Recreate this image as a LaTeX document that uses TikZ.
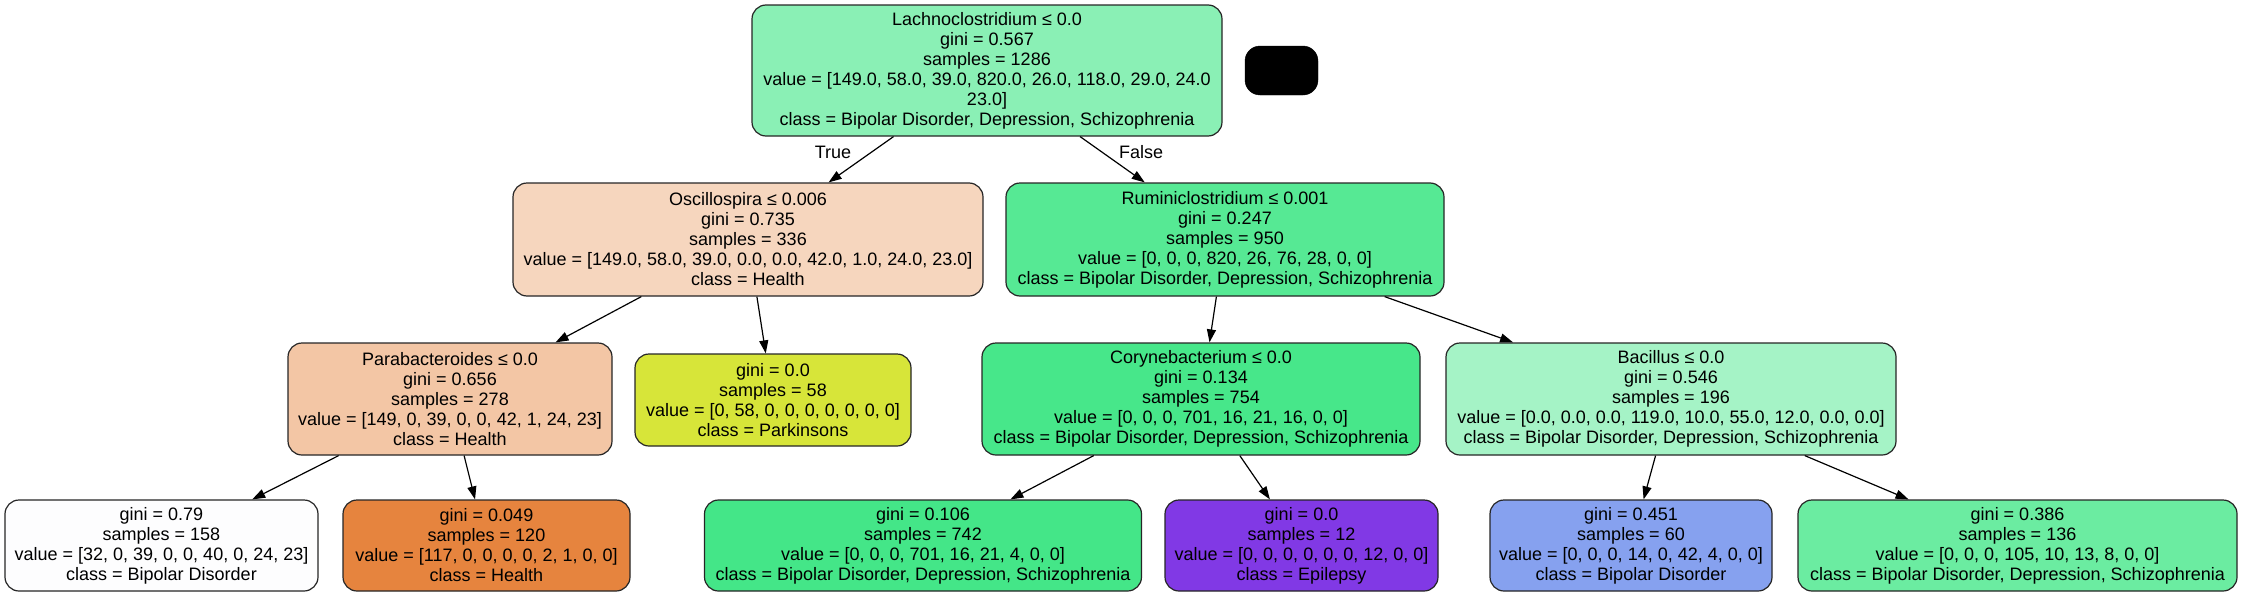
\documentclass[tikz,border=0pt]{standalone}
\usepackage{fontspec}
\setmainfont{Liberation Sans}
\usetikzlibrary{arrows.meta}
\definecolor{color_dtree_root}{HTML}{8AF0B5}
\definecolor{color_dtree_osc}{HTML}{F6D6BE}
\definecolor{color_dtree_rum}{HTML}{56E994}
\definecolor{color_dtree_para}{HTML}{F3C6A5}
\definecolor{color_dtree_park}{HTML}{D7E539}
\definecolor{color_dtree_cory}{HTML}{47E78A}
\definecolor{color_dtree_bac}{HTML}{A5F3C6}
\definecolor{color_dtree_bip}{HTML}{FDFDFE}
\definecolor{color_dtree_health}{HTML}{E6843E}
\definecolor{color_dtree_bds}{HTML}{44E688}
\definecolor{color_dtree_epi}{HTML}{8139E5}
\definecolor{color_dtree_blue}{HTML}{86A1EF}
\definecolor{color_dtree_mint}{HTML}{6BECA1}
\def\dtreeradius{14pt}
\newcommand{\dtreefont}{\fontsize{18}{20}\selectfont}

\begin{document}
\begin{tikzpicture}[x=1pt,y=-1pt,
    dnode/.style={draw=black!85, line width=1.2pt, rounded corners=\dtreeradius, inner sep=0pt, align=center, font=\dtreefont},
    dleaf/.style={dnode, minimum height=91pt},
    dedge/.style={line width=1.2pt, -{Triangle[length=13pt,width=9pt]}},
    dlabel/.style={inner sep=0pt, font=\dtreefont}]
            \useasboundingbox (0,0) rectangle (2242,597);
            % root and the black box beside it
            \node[dnode, fill=color_dtree_root, minimum width=470pt, minimum height=131pt] (lachno) at (987,70.5)
                {Lachnoclostridium ≤ 0.0\\gini = 0.567\\samples = 1286\\value = [149.0, 58.0, 39.0, 820.0, 26.0, 118.0, 29.0, 24.0\\23.0]\\class = Bipolar Disorder, Depression, Schizophrenia};
            \node[fill=black, draw=black, rounded corners=15pt, minimum width=73pt, minimum height=49pt, inner sep=0pt] (blank) at (1281.5,70.5) {};
            % second level
            \node[dnode, fill=color_dtree_osc, minimum width=470pt, minimum height=113pt] (osc) at (748,239.5)
                {Oscillospira ≤ 0.006\\gini = 0.735\\samples = 336\\value = [149.0, 58.0, 39.0, 0.0, 0.0, 42.0, 1.0, 24.0, 23.0]\\class = Health};
            \node[dnode, fill=color_dtree_rum, minimum width=438pt, minimum height=113pt] (rum) at (1225,239.5)
                {Ruminiclostridium ≤ 0.001\\gini = 0.247\\samples = 950\\value = [0, 0, 0, 820, 26, 76, 28, 0, 0]\\class = Bipolar Disorder, Depression, Schizophrenia};
            % third level
            \node[dnode, fill=color_dtree_para, minimum width=324pt, minimum height=112pt] (para) at (450,399)
                {Parabacteroides ≤ 0.0\\gini = 0.656\\samples = 278\\value = [149, 0, 39, 0, 0, 42, 1, 24, 23]\\class = Health};
            \node[dnode, fill=color_dtree_park, minimum width=276pt, minimum height=92pt] (park) at (773,400)
                {gini = 0.0\\samples = 58\\value = [0, 58, 0, 0, 0, 0, 0, 0, 0]\\class = Parkinsons};
            \node[dnode, fill=color_dtree_cory, minimum width=438pt, minimum height=112pt] (cory) at (1201,399)
                {Corynebacterium ≤ 0.0\\gini = 0.134\\samples = 754\\value = [0, 0, 0, 701, 16, 21, 16, 0, 0]\\class = Bipolar Disorder, Depression, Schizophrenia};
            \node[dnode, fill=color_dtree_bac, minimum width=450pt, minimum height=112pt] (bac) at (1671,399)
                {Bacillus ≤ 0.0\\gini = 0.546\\samples = 196\\value = [0.0, 0.0, 0.0, 119.0, 10.0, 55.0, 12.0, 0.0, 0.0]\\class = Bipolar Disorder, Depression, Schizophrenia};
            % leaves
            \node[dleaf, fill=color_dtree_bip, minimum width=313pt] (leafa) at (161.5,545.5)
                {gini = 0.79\\samples = 158\\value = [32, 0, 39, 0, 0, 40, 0, 24, 23]\\class = Bipolar Disorder};
            \node[dleaf, fill=color_dtree_health, minimum width=287pt] (leafb) at (486.5,545.5)
                {gini = 0.049\\samples = 120\\value = [117, 0, 0, 0, 0, 2, 1, 0, 0]\\class = Health};
            \node[dleaf, fill=color_dtree_bds, minimum width=437pt] (leafc) at (923,545.5)
                {gini = 0.106\\samples = 742\\value = [0, 0, 0, 701, 16, 21, 4, 0, 0]\\class = Bipolar Disorder, Depression, Schizophrenia};
            \node[dleaf, fill=color_dtree_epi, minimum width=273pt] (leafd) at (1301.5,545.5)
                {gini = 0.0\\samples = 12\\value = [0, 0, 0, 0, 0, 0, 12, 0, 0]\\class = Epilepsy};
            \node[dleaf, fill=color_dtree_blue, minimum width=282pt] (leafe) at (1631,545.5)
                {gini = 0.451\\samples = 60\\value = [0, 0, 0, 14, 0, 42, 4, 0, 0]\\class = Bipolar Disorder};
            \node[dleaf, fill=color_dtree_mint, minimum width=439pt] (leaff) at (2017.5,545.5)
                {gini = 0.386\\samples = 136\\value = [0, 0, 0, 105, 10, 13, 8, 0, 0]\\class = Bipolar Disorder, Depression, Schizophrenia};
            % edges
            \draw[dedge] (lachno) -- (osc);
            \draw[dedge] (lachno) -- (rum);
            \draw[dedge] (osc) -- (para);
            \draw[dedge] (osc) -- (park);
            \draw[dedge] (rum) -- (cory);
            \draw[dedge] (rum) -- (bac);
            \draw[dedge] (para) -- (leafa);
            \draw[dedge] (para) -- (leafb);
            \draw[dedge] (cory) -- (leafc);
            \draw[dedge] (cory) -- (leafd);
            \draw[dedge] (bac) -- (leafe);
            \draw[dedge] (bac) -- (leaff);
            % edge labels
            \node[dlabel] (lbltrue) at (833,152) {True};
            \node[dlabel] (lblfalse) at (1141,152) {False};
\end{tikzpicture}
\end{document}
